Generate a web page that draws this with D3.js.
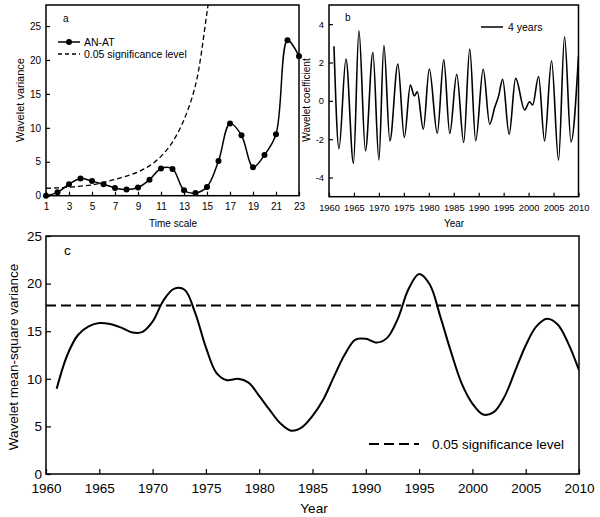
<!DOCTYPE html>
<html><head><meta charset="utf-8">
<script src="https://cdn.jsdelivr.net/npm/d3@7"></script>
<style>
body{margin:0;background:#fff;}
svg{display:block;font-family:"Liberation Sans",Arial,sans-serif;}
</style></head>
<body><svg id="c" width="600" height="517"></svg>
<script>
// Panel a: wavelet variance vs time scale
const aScales = [1,2,3,4,5,6,7,8,9,10,11,12,13,14,15,16,17,18,19,20,21,22,23];
const aVariance = [0.0,0.5,1.7,2.55,2.15,1.7,1.15,0.9,1.2,2.35,4.0,3.95,0.8,0.4,1.3,5.1,10.65,8.9,4.2,6.0,9.05,22.9,20.55];
const aSigScales = [1,2,3,4,5,6,7,8,9,10,11,12,13,14,15,16];
const aSigValues = [1.1,1.15,1.25,1.4,1.6,1.95,2.4,2.9,3.5,4.4,5.8,7.9,11.2,16.3,27,40];
const aXTicks = [1,3,5,7,9,11,13,15,17,19,21,23];
const aYTicks = [0,5,10,15,20,25];

// Panel b: 4-year wavelet coefficient (turning points)
const bYears = [1961,1962,1963.4,1964.9,1966,1967.3,1968.8,1970,1971,1972.2,1973.8,1975.1,1976.3,1977.1,1977.7,1978.9,1980.1,1981.7,1983,1984.2,1985.6,1987,1988.2,1989.4,1990.9,1992.2,1993.2,1994,1994.8,1996.1,1997.4,1999.2,2000.2,2000.8,2002,2003.2,2004.6,2006,2007.2,2008.5,2010];
const bCoef = [2.85,-2.49,2.18,-3.25,3.66,-2.6,2.52,-3.08,2.9,-2.09,1.92,-1.91,0.82,0.26,0.47,-1.48,1.66,-1.69,2.14,-1.7,1.39,-2.17,2.7,-2.09,1.65,-1.22,-0.35,0.26,1.13,-1.74,1.17,-0.47,-0.05,-0.22,1.27,-2.09,2.09,-3.1,3.34,-2.14,2.35];
const bXTicks = [1960,1965,1970,1975,1980,1985,1990,1995,2000,2005,2010];
const bYTicks = [-4,-2,0,2,4];

// Panel c: wavelet mean-square variance by year
const cYears = d3.range(1961, 2011);
const cVariance = [8.95,12.5,14.6,15.5,15.85,15.75,15.4,14.9,14.9,16.0,18.2,19.45,19.35,16.9,13.3,10.6,9.85,10.0,9.6,8.2,6.7,5.3,4.55,4.9,6.1,7.8,10.2,12.5,14.1,14.2,13.8,14.3,16.3,19.4,21.0,19.9,16.5,12.8,9.5,7.4,6.25,6.5,8.1,10.8,13.5,15.5,16.3,15.7,13.7,10.9];
const cSig = 17.7;
const cXTicks = [1960,1965,1970,1975,1980,1985,1990,1995,2000,2005,2010];
const cYTicks = [0,5,10,15,20,25];

const svg = d3.select("#c");

function panel(id, x0, x1, y0, y1){
  svg.append("clipPath").attr("id", id).append("rect")
    .attr("x", x0).attr("y", y0).attr("width", x1 - x0).attr("height", y1 - y0);
}
function axes(g, x, y, xt, yt, fs, tickLen, padX, padY){
  const ax = g.append("g").attr("transform", `translate(0,${y.range()[0]})`)
    .call(d3.axisBottom(x).tickValues(xt).tickSizeInner(-tickLen).tickSizeOuter(0).tickPadding(padX).tickFormat(d3.format("d")));
  const ay = g.append("g").attr("transform", `translate(${x.range()[0]},0)`)
    .call(d3.axisLeft(y).tickValues(yt).tickSizeInner(-tickLen).tickSizeOuter(0).tickPadding(padY).tickFormat(d => d < 0 ? "-" + Math.abs(d) : d));
  [ax, ay].forEach(a => {
    a.select(".domain").remove();
    a.selectAll("text").attr("font-size", fs).attr("fill", "#000").attr("font-family", "Liberation Sans, Arial, sans-serif");
    a.selectAll("line").attr("stroke", "#000").attr("stroke-width", 1.2);
  });
  g.append("rect").attr("x", x.range()[0]).attr("y", y.range()[1])
    .attr("width", x.range()[1] - x.range()[0]).attr("height", y.range()[0] - y.range()[1])
    .attr("fill", "none").attr("stroke", "#000").attr("stroke-width", 1.5);
}

// ---------- Panel a ----------
{
  const x = d3.scaleLinear().domain([1, 23]).range([46, 299]);
  const y = d3.scaleLinear().domain([0, 28.1]).range([195.7, 5]);
  const g = svg.append("g");
  panel("clipA", 46, 299, 5, 195.7);
  axes(g, x, y, aXTicks, aYTicks, 10, 4, 7, 5);
  const sig = aSigScales.map((s, i) => [s, aSigValues[i]]);
  g.append("path").datum(sig).attr("clip-path", "url(#clipA)")
    .attr("d", d3.line().x(d => x(d[0])).y(d => y(d[1])).curve(d3.curveCatmullRom.alpha(0.5)))
    .attr("fill", "none").attr("stroke", "#000").attr("stroke-width", 1.3).attr("stroke-dasharray", "5,3");
  const pts = aScales.map((s, i) => [s, aVariance[i]]);
  g.append("path").datum(pts).attr("clip-path", "url(#clipA)")
    .attr("d", d3.line().x(d => x(d[0])).y(d => y(d[1])).curve(d3.curveCatmullRom.alpha(0.5)))
    .attr("fill", "none").attr("stroke", "#000").attr("stroke-width", 1.5);
  g.selectAll("circle.pt").data(pts).join("circle").attr("class", "pt")
    .attr("cx", d => x(d[0])).attr("cy", d => y(d[1])).attr("r", 3).attr("fill", "#000");
  g.append("text").attr("x", 63).attr("y", 22).attr("font-size", 10).text("a");
  g.append("line").attr("x1", 58).attr("x2", 80).attr("y1", 42).attr("y2", 42).attr("stroke", "#000").attr("stroke-width", 1.5);
  g.append("circle").attr("cx", 69).attr("cy", 42).attr("r", 3).attr("fill", "#000");
  g.append("text").attr("x", 84).attr("y", 46).attr("font-size", 10.5).text("AN-AT");
  g.append("line").attr("x1", 58).attr("x2", 80).attr("y1", 54).attr("y2", 54).attr("stroke", "#000").attr("stroke-width", 1.3).attr("stroke-dasharray", "4,3");
  g.append("text").attr("x", 84).attr("y", 58).attr("font-size", 10.5).text("0.05 significance level");
  g.append("text").attr("transform", "translate(24,100) rotate(-90)").attr("text-anchor", "middle").attr("font-size", 11).text("Wavelet variance");
  g.append("text").attr("x", 173).attr("y", 227).attr("text-anchor", "middle").attr("font-size", 10).text("Time scale");
}

// ---------- Panel b ----------
{
  const x = d3.scaleLinear().domain([1960, 2010]).range([329, 578.5]);
  const y = d3.scaleLinear().domain([-5, 5]).range([196.7, 5]);
  const g = svg.append("g");
  panel("clipB", 329, 578.5, 5, 196.7);
  axes(g, x, y, bXTicks, bYTicks, 9.3, 4, 8, 5);
  const pts = bYears.map((t, i) => [t, bCoef[i]]);
  g.append("path").datum(pts).attr("clip-path", "url(#clipB)")
    .attr("d", d3.line().x(d => x(d[0])).y(d => y(d[1])).curve(d3.curveMonotoneX))
    .attr("fill", "none").attr("stroke", "#000").attr("stroke-width", 1.6);
  g.append("text").attr("x", 345).attr("y", 21).attr("font-size", 10).text("b");
  g.append("line").attr("x1", 481).attr("x2", 503).attr("y1", 27).attr("y2", 27).attr("stroke", "#000").attr("stroke-width", 1.5);
  g.append("text").attr("x", 508).attr("y", 31).attr("font-size", 10.5).text("4 years");
  g.append("text").attr("transform", "translate(310,100) rotate(-90)").attr("text-anchor", "middle").attr("font-size", 10).text("Wavelet coefficient");
  g.append("text").attr("x", 454).attr("y", 227).attr("text-anchor", "middle").attr("font-size", 10).text("Year");
}

// ---------- Panel c ----------
{
  const x = d3.scaleLinear().domain([1960, 2010]).range([46, 579]);
  const y = d3.scaleLinear().domain([0, 25]).range([474, 236]);
  const g = svg.append("g");
  panel("clipC", 46, 579, 236, 474);
  axes(g, x, y, cXTicks, cYTicks, 13.5, 5, 9.5, 4);
  g.append("line").attr("x1", x(1960)).attr("x2", x(2010)).attr("y1", y(cSig)).attr("y2", y(cSig))
    .attr("stroke", "#000").attr("stroke-width", 2).attr("stroke-dasharray", "10,5");
  const pts = cYears.map((t, i) => [t, cVariance[i]]);
  g.append("path").datum(pts).attr("clip-path", "url(#clipC)")
    .attr("d", d3.line().x(d => x(d[0])).y(d => y(d[1])).curve(d3.curveCatmullRom.alpha(0.5)))
    .attr("fill", "none").attr("stroke", "#000").attr("stroke-width", 2);
  g.append("text").attr("x", 64).attr("y", 255).attr("font-size", 13.5).text("c");
  g.append("line").attr("x1", 369).attr("x2", 419).attr("y1", 444).attr("y2", 444)
    .attr("stroke", "#000").attr("stroke-width", 2).attr("stroke-dasharray", "10,5");
  g.append("text").attr("x", 432).attr("y", 449).attr("font-size", 13.5).text("0.05 significance level");
  g.append("text").attr("transform", "translate(18,357) rotate(-90)").attr("text-anchor", "middle").attr("font-size", 13.5).text("Wavelet mean-square variance");
  g.append("text").attr("x", 314).attr("y", 513).attr("text-anchor", "middle").attr("font-size", 13.5).text("Year");
}
</script></body></html>
